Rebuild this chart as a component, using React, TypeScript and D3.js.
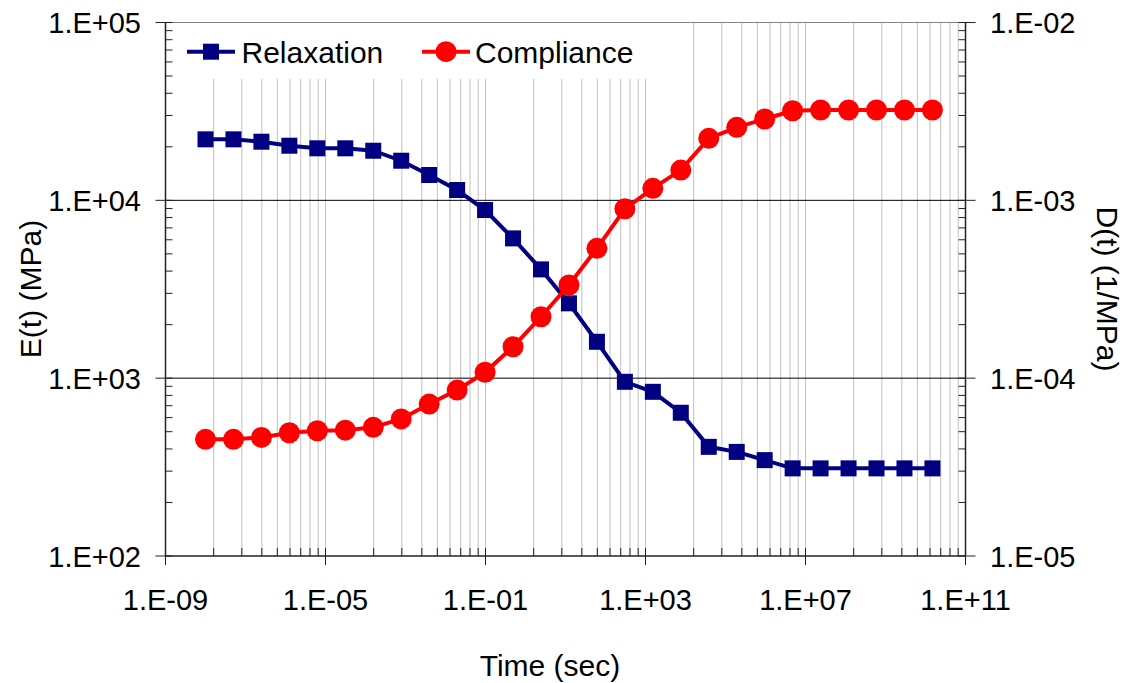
import React from "react";
import * as d3 from "d3";

const times = [
  1.0e-8, 5.0e-8, 2.5e-7, 1.25e-6, 6.25e-6, 3.125e-5, 1.5625e-4, 7.8125e-4,
  3.906e-3, 1.953e-2, 9.766e-2, 0.4883, 2.441, 12.21, 61.04, 305.2, 1526,
  7629, 38147, 190735, 953674, 4.768e6, 2.384e7, 1.192e8, 5.96e8, 2.98e9,
  1.49e10,
];
const relaxation = [
  22030, 22030, 21360, 20280, 19610, 19610, 19010, 16700, 13880, 11430, 8820,
  6110, 4090, 2635, 1602, 954, 838, 639, 411, 385, 346, 311, 311, 311, 311,
  311, 311,
];
const compliance = [
  4.53e-5, 4.53e-5, 4.645e-5, 4.93e-5, 5.06e-5, 5.1e-5, 5.29e-5, 5.9e-5,
  7.15e-5, 8.57e-5, 1.079e-4, 1.502e-4, 2.215e-4, 3.34e-4, 5.37e-4, 8.96e-4,
  1.168e-3, 1.48e-3, 2.232e-3, 2.574e-3, 2.866e-3, 3.19e-3, 3.22e-3, 3.22e-3,
  3.22e-3, 3.22e-3, 3.22e-3,
];
const xMajor = [1e-9, 1e-5, 1e-1, 1e3, 1e7, 1e11];
const xLabels = ["1.E-09", "1.E-05", "1.E-01", "1.E+03", "1.E+07", "1.E+11"];
const yLeftMajor = [1e2, 1e3, 1e4, 1e5];
const yLeftLabels = ["1.E+02", "1.E+03", "1.E+04", "1.E+05"];
const yRightMajor = [1e-5, 1e-4, 1e-3, 1e-2];
const yRightLabels = ["1.E-05", "1.E-04", "1.E-03", "1.E-02"];
const seriesNames = ["Relaxation", "Compliance"];

const FONT = "'Liberation Sans', Arial, sans-serif";
const NAVY = "#000080";
const RED = "#FF0000";

export default function App() {
  const L = 165.5, R = 965.5, T = 22.5, B = 556;
  const x = d3.scaleLog().domain([1e-9, 1e11]).range([L, R]);
  const yL = d3.scaleLog().domain([1e2, 1e5]).range([B, T]);
  const yR = d3.scaleLog().domain([1e-5, 1e-2]).range([B, T]);

  // minor ticks on x: Excel-style subdivisions of each 4-decade major unit
  const xMinor: number[] = [];
  for (let i = 0; i < xMajor.length - 1; i++) {
    for (let k = 2; k <= 9; k++) xMinor.push(xMajor[i] * Math.pow(k, 4));
  }
  const yLMinor: number[] = [];
  for (let i = 0; i < yLeftMajor.length - 1; i++)
    for (let k = 2; k <= 9; k++) yLMinor.push(yLeftMajor[i] * k);
  const yRMinor: number[] = [];
  for (let i = 0; i < yRightMajor.length - 1; i++)
    for (let k = 2; k <= 9; k++) yRMinor.push(yRightMajor[i] * k);

  const relLine = d3
    .line<number>()
    .x((_, i) => x(times[i]))
    .y((d) => yL(d));
  const compLine = d3
    .line<number>()
    .x((_, i) => x(times[i]))
    .y((d) => yR(d));

  const gridX = [...xMinor, ...xMajor.slice(1, -1)];

  return (
    <svg
      width={1130}
      height={683}
      style={{ position: "absolute", left: 0, top: 0, background: "#fff" }}
      fontFamily={FONT}
    >
      <rect x={0} y={0} width={1130} height={683} fill="#fff" />
      {/* vertical gridlines */}
      {gridX.map((v, i) => (
        <line key={"gx" + i} x1={x(v)} x2={x(v)} y1={T} y2={B} stroke="#c0c0c0" strokeWidth={1} />
      ))}
      {/* horizontal major gridlines */}
      {[1e3, 1e4].map((v) => (
        <line key={"gy" + v} x1={L} x2={R} y1={yL(v)} y2={yL(v)} stroke="#000" strokeWidth={1} />
      ))}
      {/* top border */}
      <line x1={L} x2={R} y1={T} y2={T} stroke="#808080" strokeWidth={1} />

      {/* legend box */}
      <rect x={172} y={T + 0.5} width={474} height={56} fill="#fff" />

      {/* axes */}
      <line x1={L} x2={L} y1={T} y2={B} stroke="#222" strokeWidth={1.5} />
      <line x1={R} x2={R} y1={T} y2={B} stroke="#222" strokeWidth={1.5} />
      <line x1={L} x2={R} y1={B} y2={B} stroke="#222" strokeWidth={1.5} />

      {/* x ticks */}
      {xMinor.map((v, i) => (
        <line key={"xm" + i} x1={x(v)} x2={x(v)} y1={B - 8} y2={B} stroke="#222" strokeWidth={1} />
      ))}
      {xMajor.map((v, i) => (
        <g key={"xM" + i}>
          <line x1={x(v)} x2={x(v)} y1={B - 8} y2={B + 9} stroke="#222" strokeWidth={1} />
          <text x={x(v)} y={610} fontSize={29} textAnchor="middle" fill="#000">
            {xLabels[i]}
          </text>
        </g>
      ))}
      {/* left y ticks */}
      {yLMinor.map((v, i) => (
        <line key={"ylm" + i} x1={L} x2={L + 7} y1={yL(v)} y2={yL(v)} stroke="#222" strokeWidth={1} />
      ))}
      {yLeftMajor.map((v, i) => (
        <g key={"ylM" + i}>
          <line x1={L - 10} x2={L + 7} y1={yL(v)} y2={yL(v)} stroke="#222" strokeWidth={1} />
          <text x={141} y={yL(v) + 10.5} fontSize={29} textAnchor="end" fill="#000">
            {yLeftLabels[i]}
          </text>
        </g>
      ))}
      {/* right y ticks */}
      {yRMinor.map((v, i) => (
        <line key={"yrm" + i} x1={R - 7} x2={R} y1={yR(v)} y2={yR(v)} stroke="#222" strokeWidth={1} />
      ))}
      {yRightMajor.map((v, i) => (
        <g key={"yrM" + i}>
          <line x1={R - 7} x2={R + 10} y1={yR(v)} y2={yR(v)} stroke="#222" strokeWidth={1} />
          <text x={990} y={yR(v) + 10.5} fontSize={29} textAnchor="start" fill="#000">
            {yRightLabels[i]}
          </text>
        </g>
      ))}

      {/* relaxation series */}
      <path d={relLine(relaxation) || ""} fill="none" stroke={NAVY} strokeWidth={4} />
      {relaxation.map((v, i) => (
        <rect key={"rs" + i} x={x(times[i]) - 8} y={yL(v) - 8} width={16} height={16} fill={NAVY} />
      ))}
      {/* compliance series */}
      <path d={compLine(compliance) || ""} fill="none" stroke={RED} strokeWidth={4} />
      {compliance.map((v, i) => (
        <circle key={"cs" + i} cx={x(times[i])} cy={yR(v)} r={10.5} fill={RED} />
      ))}

      {/* legend */}
      <line x1={187} x2={235} y1={51.7} y2={51.7} stroke={NAVY} strokeWidth={4} />
      <rect x={203} y={43.7} width={16} height={16} fill={NAVY} />
      <text x={241.5} y={63.3} fontSize={30} fill="#000">{seriesNames[0]}</text>
      <line x1={422} x2={470} y1={51.7} y2={51.7} stroke={RED} strokeWidth={4} />
      <circle cx={446} cy={51.7} r={10.5} fill={RED} />
      <text x={475} y={63.3} fontSize={30} fill="#000">{seriesNames[1]}</text>

      {/* axis titles */}
      <text x={550} y={676} fontSize={30} textAnchor="middle" fill="#000">Time (sec)</text>
      <text
        transform={`translate(41, 289) rotate(-90)`}
        fontSize={30}
        textAnchor="middle"
        fill="#000"
      >
        E(t) (MPa)
      </text>
      <text
        transform={`translate(1097, 289) rotate(90)`}
        fontSize={30}
        textAnchor="middle"
        fill="#000"
      >
        D(t) (1/MPa)
      </text>
    </svg>
  );
}
